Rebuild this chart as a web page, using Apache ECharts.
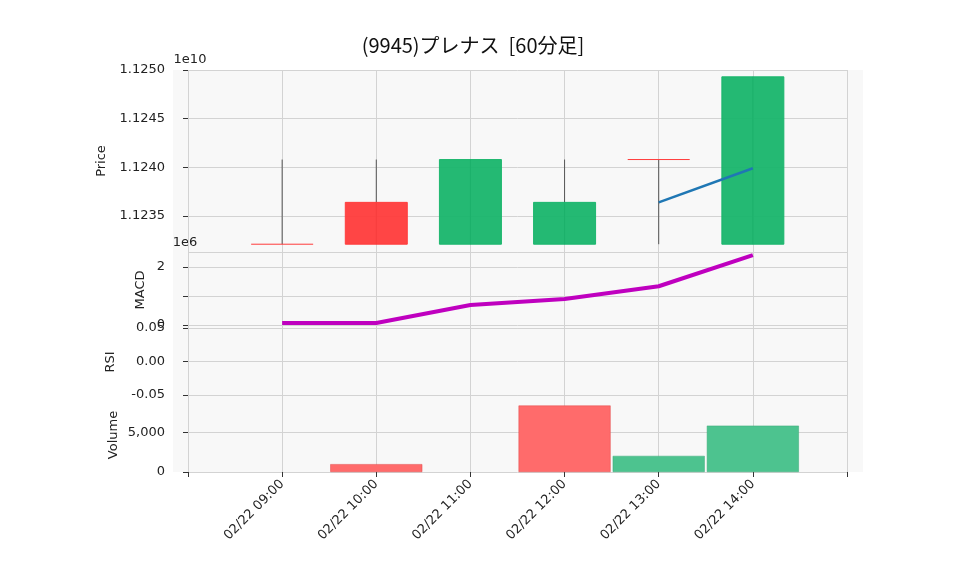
<!DOCTYPE html>
<html><head><meta charset="utf-8">
<script src="https://cdn.jsdelivr.net/npm/echarts@6/dist/echarts.min.js"></script>
<style>html,body{margin:0;padding:0;background:#fff}#c{width:958px;height:575px}</style>
</head><body><div id="c"></div>
<script>
const categories = ['', '02/22 09:00', '02/22 10:00', '02/22 11:00', '02/22 12:00', '02/22 13:00', '02/22 14:00', ''];
// [open, close, low, high]
const candles = [null,
  [11232100000, 11232100000, 11232100000, 11240800000],
  [11232100000, 11236400000, 11232100000, 11240800000],
  [11240800000, 11232100000, 11232100000, 11240800000],
  [11236400000, 11232100000, 11232100000, 11240800000],
  [11240800000, 11240800000, 11232100000, 11240800000],
  [11249300000, 11232100000, 11232100000, 11249300000],
  null];
const candleColors = ['', '#ff3b3b', '#ff3b3b', '#18b56c', '#18b56c', '#ff3b3b', '#18b56c', ''];
const maLine = [null, null, null, null, null, 11236400000, 11239900000, null];
const macd = [null, 70000, 70000, 690000, 900000, 1340000, 2410000, null];
const volume = [null, 0, 1000, 0, 8460, 2050, 5900, null];
const volColors = ['', '#ff6b6b', '#ff6b6b', '#ff6b6b', '#ff6b6b', '#4dc38f', '#4dc38f', ''];

const chart = echarts.init(document.getElementById('c'));
const F = 'DejaVu Sans';
const grids = [{top:70,h:182},{top:252,h:76},{top:328,h:67},{top:395,h:77}];
const gl = {lineStyle:{color:'#d3d3d3'}};
const xAxes = grids.map((g,i)=>({type:'category',gridIndex:i,data:categories,boundaryGap:false,
  axisLine:{show:false},axisTick:{show:i===3,length:5,lineStyle:{color:'#333'},alignWithLabel:true},
  axisLabel:{show:i===3,rotate:45,fontSize:13,color:'#222',fontFamily:F,margin:10,interval:0},
  splitLine:{show:true,lineStyle:{color:'#d3d3d3'}}}));
const lab = {color:'#222',fontSize:13,fontFamily:F,margin:23};
const yAxes = [
  {type:'value',gridIndex:0,min:11231300000,max:11250000000,splitNumber:4,axisLine:{show:false},axisTick:{show:true,length:5,lineStyle:{color:'#333'}},
   axisLabel:Object.assign({},lab,{showMinLabel:false,formatter:v=>(v/1e10).toFixed(4)}),splitLine:gl},
  {type:'value',gridIndex:1,min:-100000,max:2520000,splitNumber:2,axisLine:{show:false},axisTick:{show:true,length:5,lineStyle:{color:'#333'}},
   axisLabel:Object.assign({},lab,{showMinLabel:false,showMaxLabel:false,formatter:v=>(Math.round(v/1e6)%2===0?String(Math.round(v/1e6)):'')}),splitLine:gl},
  {type:'value',gridIndex:2,min:-0.05,max:0.05,interval:0.05,axisLine:{show:false},axisTick:{show:true,length:5,lineStyle:{color:'#333'}},
   axisLabel:Object.assign({},lab,{formatter:v=>v.toFixed(2)}),splitLine:gl},
  {type:'value',gridIndex:3,min:0,max:9800,interval:5000,axisLine:{show:false},axisTick:{show:true,length:5,lineStyle:{color:'#333'}},
   axisLabel:Object.assign({},lab,{showMaxLabel:false}),splitLine:gl}
];
const bg = grids.map(g=>({type:'rect',z:-10,shape:{x:173,y:g.top,width:690,height:g.h},style:{fill:'#f8f8f8'},silent:true}));
const txt = (x,y,t,rot)=>({type:'text',x:x,y:y,rotation:rot?Math.PI/2:0,style:{text:t,fill:'#222',font:'13px "DejaVu Sans"',align:'center',verticalAlign:'middle'}});
chart.setOption({
  animation:false,
  title:{text:'(9945)プレナス  [60分足]',left:468,top:30,textAlign:'center',textStyle:{fontFamily:'"Noto Sans CJK JP"',fontSize:20,fontWeight:'normal',color:'#111'}},
  grid:grids.map(g=>({left:188,right:111,top:g.top,height:g.h})),
  xAxis:xAxes, yAxis:yAxes,
  graphic:bg.concat([txt(190,60,'1e10'),txt(185,243,'1e6'),txt(102,161,'Price',true),txt(141,290,'MACD',true),txt(111,362,'RSI',true),txt(114,435,'Volume',true)]),
  series:[
    {type:'custom',xAxisIndex:0,yAxisIndex:0,data:candles.map((c,i)=>c?[i].concat(c):[i,NaN,NaN,NaN,NaN]),
     renderItem:(params,api)=>{
       const i=api.value(0); if(!candles[i]) return;
       const o=api.coord([i,api.value(1)]),c=api.coord([i,api.value(2)]),l=api.coord([i,api.value(3)]),h=api.coord([i,api.value(4)]);
       const col=candleColors[i]; const w=62;
       const top=Math.min(o[1],c[1]),ht=Math.abs(o[1]-c[1]);
       const ch=[{type:'line',shape:{x1:o[0],y1:h[1],x2:o[0],y2:l[1]},style:{stroke:'#555',lineWidth:1}}];
       if(ht<1) ch.push({type:'line',shape:{x1:o[0]-w/2,y1:o[1],x2:o[0]+w/2,y2:o[1]},style:{stroke:col,lineWidth:1}});
       else ch.push({type:'rect',shape:{x:o[0]-w/2,y:top,width:w,height:ht},style:{fill:col,stroke:col,opacity:0.95}});
       return {type:'group',children:ch};
     }},
    {type:'line',xAxisIndex:0,yAxisIndex:0,data:maLine,symbol:'none',lineStyle:{color:'#1f77b4',width:2.5}},
    {type:'line',xAxisIndex:1,yAxisIndex:1,data:macd,symbol:'none',lineStyle:{color:'#bf00bf',width:4}},
    {type:'bar',xAxisIndex:3,yAxisIndex:3,data:volume.map((v,i)=>v===null?null:{value:v,itemStyle:{color:volColors[i],borderColor:volColors[i]==='#ff6b6b'?'#e04848':'#3aa877',borderWidth:v?0.5:0}}),barWidth:92}
  ]
});
</script></body></html>
